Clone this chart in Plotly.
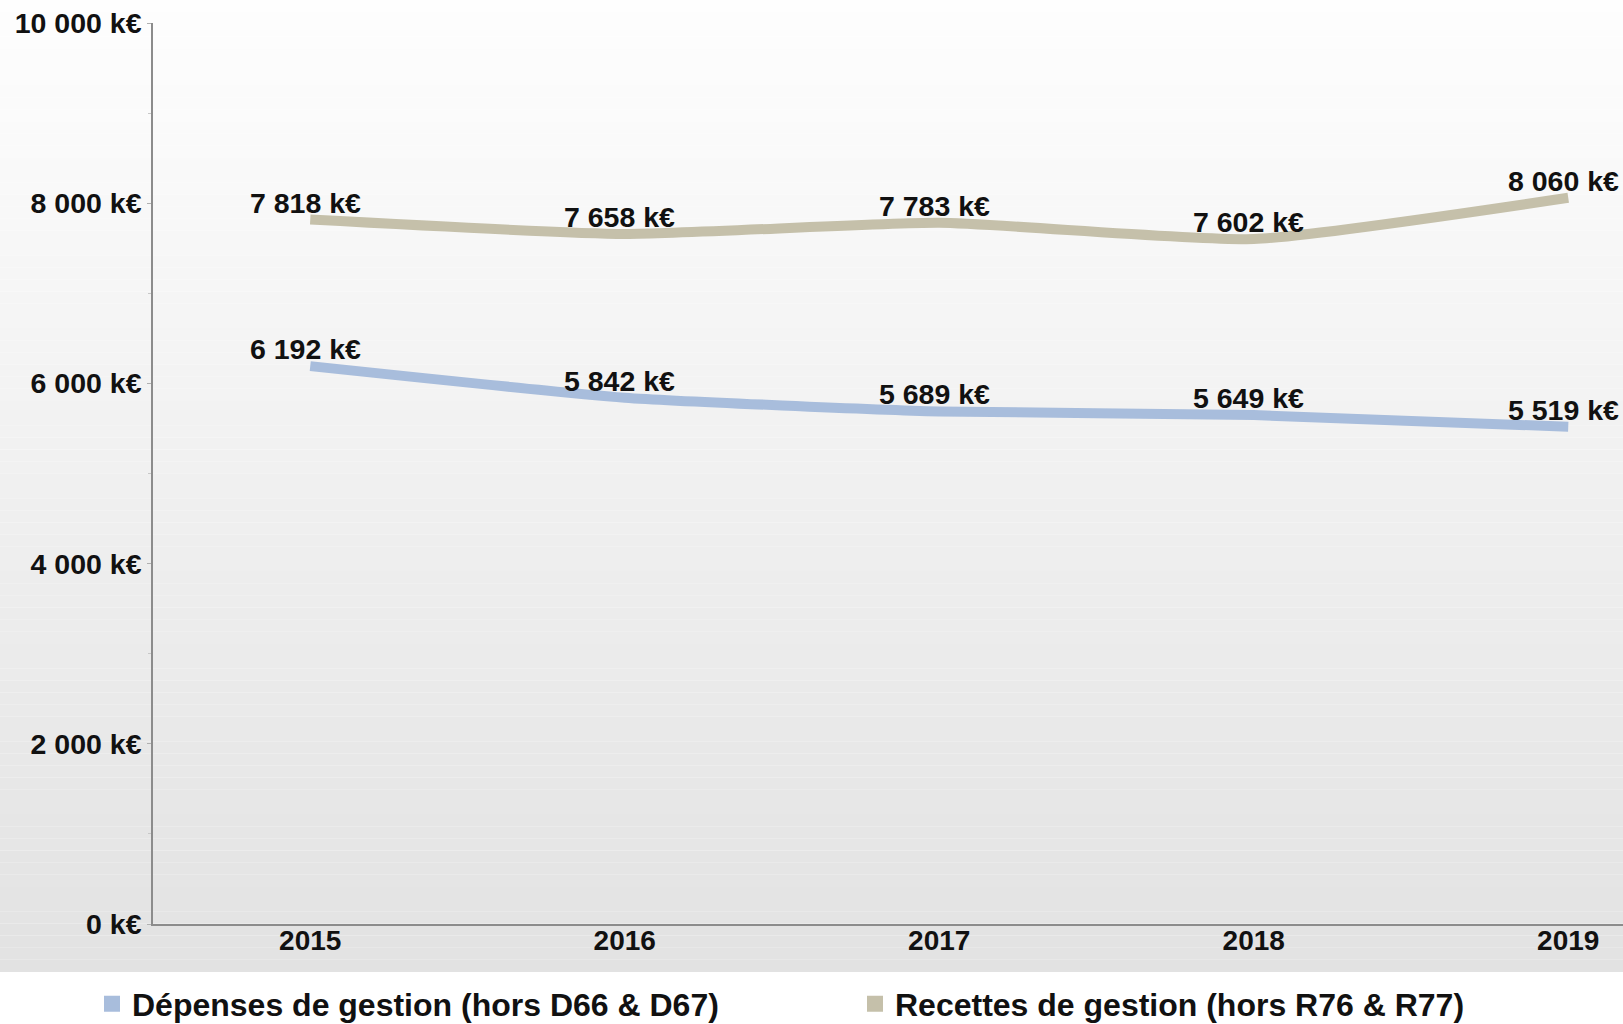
import plotly.graph_objects as go

# --- data -------------------------------------------------------------
years = ["2015", "2016", "2017", "2018", "2019"]
depenses = [6192, 5842, 5689, 5649, 5519]
recettes = [7818, 7658, 7783, 7602, 8060]
y_ticks = [0, 2000, 4000, 6000, 8000, 10000]
y_tick_labels = ["0 k€", "2 000 k€", "4 000 k€", "6 000 k€", "8 000 k€", "10 000 k€"]
series_names = ["Dépenses de gestion (hors D66 & D67)", "Recettes de gestion (hors R76 & R77)"]

BLUE = "#a8bddc"
TAN = "#c5c0aa"
FONT = "Liberation Sans, Arial, sans-serif"


def keur(v):
    return f"{v:,}".replace(",", " ") + " k€"


x_pos = list(range(len(years)))

W, H = 1623, 1024
M_L, M_R, M_T, M_B = 153, 0, 23, 100
plot_w = W - M_L - M_R
plot_h = H - M_T - M_B

fig = go.Figure()

annotations = []
for vals, color in ((depenses, BLUE), (recettes, TAN)):
    fig.add_trace(go.Scatter(
        x=x_pos, y=vals,
        mode="lines",
        line=dict(color=color, width=10, shape="spline", smoothing=0.5),
        showlegend=False,
        hoverinfo="skip",
    ))
    # value labels sitting just above each point
    for xi, v in zip(x_pos, vals):
        annotations.append(dict(
            x=xi, y=v, xref="x", yref="y",
            text=keur(v), showarrow=False,
            xanchor="center", yanchor="middle",
            xshift=-5, yshift=17,
            font=dict(family=FONT, size=28.5, color="#111111", weight="bold"),
        ))

# legend entries drawn as square swatches
for name, color in zip(series_names, (BLUE, TAN)):
    fig.add_trace(go.Scatter(
        x=[None], y=[None], mode="markers", name=name,
        marker=dict(symbol="square", size=21, color=color),
    ))

# vertical gradient behind the chart area (white at top, light grey at bottom)
grad_bottom_px = 972
n_bands = 80
top_c, bot_c = 254, 226
shapes = []
for i in range(n_bands):
    p0 = grad_bottom_px * i / n_bands
    p1 = grad_bottom_px * (i + 1) / n_bands
    t = (i + 0.5) / n_bands
    c = round(top_c + (bot_c - top_c) * t)
    shapes.append(dict(
        type="rect", xref="paper", yref="paper", layer="below",
        x0=-M_L / plot_w, x1=1.0,
        y0=(M_T + plot_h - p1) / plot_h, y1=(M_T + plot_h - p0) / plot_h,
        fillcolor=f"rgb({c},{c},{c})", line=dict(width=0),
    ))

fig.update_layout(
    width=W, height=H,
    margin=dict(l=M_L, r=M_R, t=M_T, b=M_B, autoexpand=False),
    paper_bgcolor="white",
    plot_bgcolor="rgba(0,0,0,0)",
    font=dict(family=FONT, color="#111111", weight="bold"),
    shapes=shapes,
    annotations=annotations,
    showlegend=True,
    legend=dict(
        orientation="h",
        x=(92 - M_L) / plot_w, xanchor="left",
        y=(M_T + plot_h - 1004) / plot_h, yanchor="middle",
        font=dict(family=FONT, size=32, color="#111111", weight="bold"),
        entrywidth=718, entrywidthmode="pixels",
        bgcolor="rgba(0,0,0,0)",
        itemclick=False, itemdoubleclick=False,
    ),
    xaxis=dict(
        range=[-0.5, -0.5 + plot_w / 314.5],
        tickvals=x_pos, ticktext=years,
        showgrid=False, zeroline=False,
        showline=True, linecolor="#8c8c8c", linewidth=1.5,
        ticks="", ticklabelstandoff=-9,
        tickfont=dict(family=FONT, size=28, color="#111111", weight="bold"),
        fixedrange=True,
    ),
    yaxis=dict(
        range=[0, 10000],
        tickvals=y_ticks, ticktext=y_tick_labels,
        showgrid=False, zeroline=False,
        showline=True, linecolor="#8c8c8c", linewidth=1.5,
        ticks="outside", ticklen=4, tickcolor="#b0b0b0",
        minor=dict(dtick=1000, ticks="outside", ticklen=3, tickcolor="#c8c8c8"),
        tickfont=dict(family=FONT, size=28.5, color="#111111", weight="bold"),
        fixedrange=True,
    ),
)

fig.write_html("out.html", config={"displayModeBar": False})
